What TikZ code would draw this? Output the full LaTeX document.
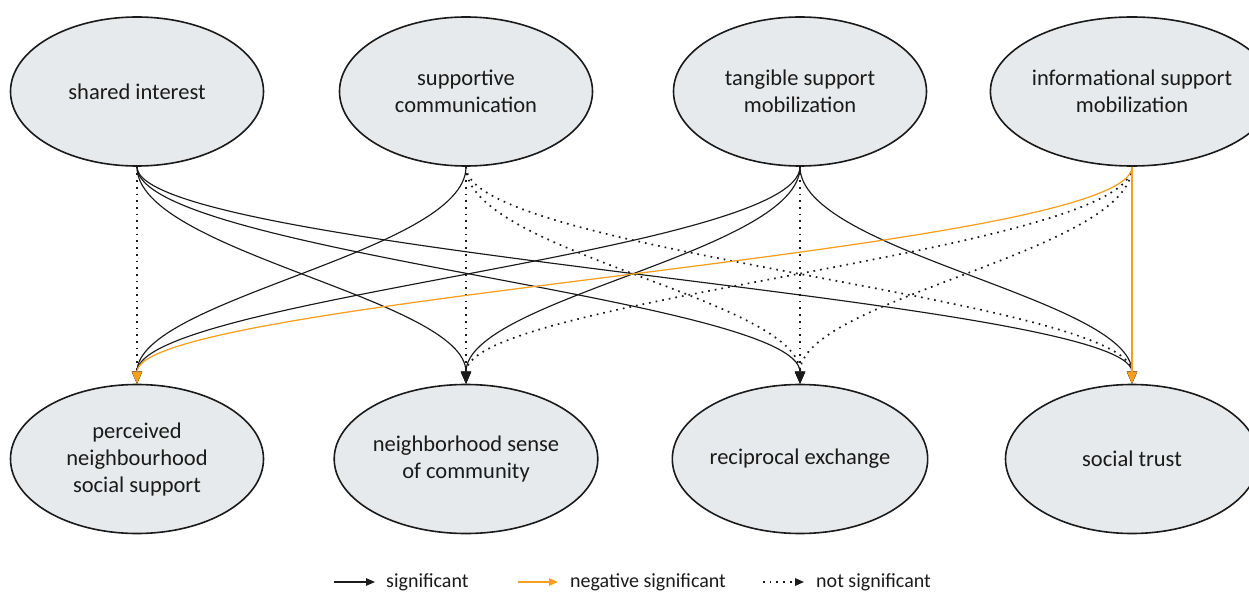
\documentclass[tikz,border=0pt]{standalone}
\usepackage{fontspec}
\setmainfont{Carlito}
\usetikzlibrary{shapes.geometric,arrows.meta}
\definecolor{nodefill}{RGB}{231,234,236}
\definecolor{negorange}{RGB}{246,158,30}
\definecolor{ink}{RGB}{26,26,26}
\begin{document}
\begin{tikzpicture}[x=1pt,y=-1pt,
  factor/.style={ellipse, draw=ink, line width=1.6pt, fill=nodefill,
    minimum width=253pt, minimum height=149pt, inner sep=0pt,
    align=center, text=ink, font=\fontsize{22.5}{27}\selectfont},
  tip/.style={-{Triangle[length=12pt,width=10pt]}},
  sig/.style={tip, line width=1.15pt, draw=ink},
  neg/.style={tip, line width=1.25pt, draw=negorange},
  ns/.style={tip, line width=1.7pt, dash pattern=on 1.7pt off 5pt, draw=ink},
  sbend/.style={to path={.. controls +(0,85) and +(0,-85) .. (\tikztotarget)}},
  smalltip/.style={-{Triangle[length=9pt,width=7.5pt]}},
  legend/.style={font=\fontsize{20}{24}\selectfont, text=ink, inner sep=0pt}
]
\useasboundingbox (0,0) rectangle (1249,593);

% predictors
\node[factor] (A) at (137,91.5) {shared interest};
\node[factor] (B) at (466,91.5) {supportive\\communication};
\node[factor] (C) at (800,91.5) {tangible support\\mobilization};
\node[factor] (D) at (1132,91.5) {informational support\\mobilization};

% outcomes
\node[factor] (P) at (137,459) {perceived\\neighbourhood\\social support};
\node[factor] (N) at (466,459) {neighborhood sense\\of community};
\node[factor] (R) at (800,459) {reciprocal exchange};
\node[factor] (T) at (1132,459) {social trust};

% not significant paths
\draw[ns] (A.south) -- (P.north);
\draw[ns] (B.south) -- (N.north);
\draw[ns, sbend] (B.south) to (R.north);
\draw[ns, sbend] (B.south) to (T.north);
\draw[ns] (C.south) -- (R.north);
\draw[ns, sbend] (D.south) to (N.north);
\draw[ns, sbend] (D.south) to (R.north);

% significant paths
\draw[sig, sbend] (A.south) to (N.north);
\draw[sig, sbend] (A.south) to (R.north);
\draw[sig, sbend] (A.south) to (T.north);
\draw[sig, sbend] (B.south) to (P.north);
\draw[sig, sbend] (C.south) to (P.north);
\draw[sig, sbend] (C.south) to (N.north);
\draw[sig, sbend] (C.south) to (T.north);

% negative significant paths
\draw[neg, sbend] (D.south) to (P.north);
\draw[neg] (D.south) -- (T.north);

% legend
\coordinate (s1) at (334,582);
\coordinate (s2) at (375,582);
\coordinate (n1) at (518,582);
\coordinate (n2) at (558,582);
\coordinate (d1) at (763,582);
\coordinate (d2) at (804,582);
\draw[smalltip, line width=1.15pt, draw=ink] (s1) -- (s2);
\draw[smalltip, line width=1.25pt, draw=negorange] (n1) -- (n2);
\draw[smalltip, line width=1.5pt, draw=ink, dash pattern=on 1.7pt off 5pt] (d1) -- (d2);
\node[legend, anchor=base west] (ls) at (386,587) {significant};
\node[legend, anchor=base west] (ln) at (570,587) {negative significant};
\node[legend, anchor=base west] (ld) at (816,587) {not significant};
\end{tikzpicture}
\end{document}
